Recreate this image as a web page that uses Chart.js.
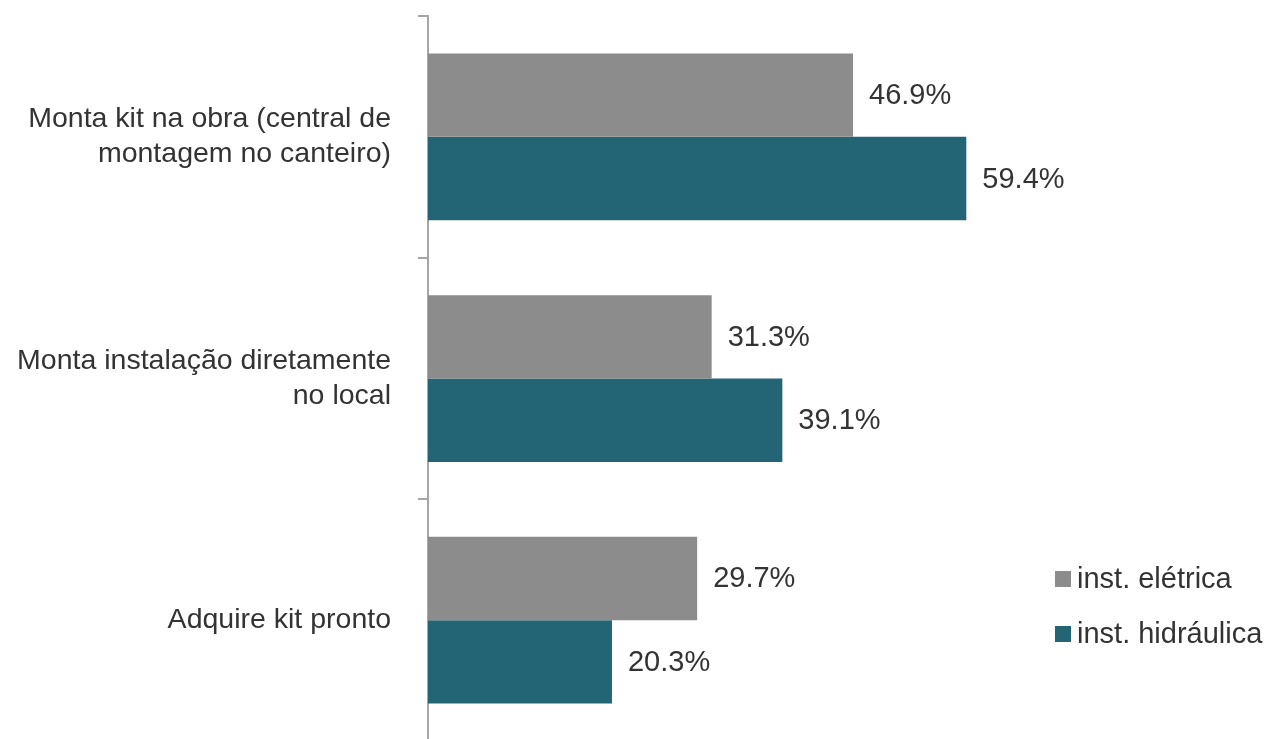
<!DOCTYPE html>
<html>
<head>
<meta charset="utf-8">
<script src="https://cdn.jsdelivr.net/npm/chart.js@4/dist/chart.umd.min.js"></script>
<style>
  html, body { margin: 0; padding: 0; background: #fff; overflow: hidden; }
  #wrap { position: relative; width: 1268px; height: 741px; }
</style>
</head>
<body>
<div id="wrap"><canvas id="barchart"></canvas></div>
<script>
let categories = [
    ['Monta kit na obra (central de', 'montagem no canteiro)'],
    ['Monta instalação diretamente', 'no local'],
    'Adquire kit pronto'
];
let seriesNames = ['inst. elétrica', 'inst. hidráulica'];
let eletrica = [46.9, 31.3, 29.7];
let hidraulica = [59.4, 39.1, 20.3];
let seriesColors = ['#8c8c8c', '#236574'];

let fontFamily = '"Liberation Sans", Arial, sans-serif';
let textColor = '#333333';

// value labels right of each bar
let valueLabels = {
    id: 'valueLabels',
    afterDatasetsDraw(chart) {
        let ctx = chart.ctx;
        ctx.save();
        ctx.font = '29px ' + fontFamily;
        ctx.fillStyle = textColor;
        ctx.textAlign = 'left';
        ctx.textBaseline = 'middle';
        chart.data.datasets.forEach((ds, i) => {
            chart.getDatasetMeta(i).data.forEach((bar, j) => {
                ctx.fillText(ds.data[j].toFixed(1) + '%', bar.x + 16, bar.y + 1);
            });
        });
        ctx.restore();
    }
};

// legend in the lower right corner
let sideLegend = {
    id: 'sideLegend',
    afterDraw(chart) {
        let ctx = chart.ctx;
        ctx.save();
        ctx.font = '29px ' + fontFamily;
        ctx.textBaseline = 'middle';
        chart.data.datasets.forEach((ds, i) => {
            let y = 579 + i * 55;
            ctx.fillStyle = ds.backgroundColor;
            ctx.fillRect(1055, y - 8, 16, 16);
            ctx.fillStyle = textColor;
            ctx.fillText(ds.label, 1077, y + 1);
        });
        ctx.restore();
    }
};

let barConfig = {
    type: 'bar',
    data: {
        labels: categories,
        datasets: [
            { label: seriesNames[0], data: eletrica, backgroundColor: seriesColors[0] },
            { label: seriesNames[1], data: hidraulica, backgroundColor: seriesColors[1] }
        ]
    },
    options: {
        indexAxis: 'y',
        responsive: true,
        maintainAspectRatio: false,
        animation: false,
        categoryPercentage: 0.69,
        barPercentage: 1.0,
        layout: { padding: { top: 16, right: 115, bottom: 0, left: 0 } },
        plugins: {
            legend: { display: false },
            tooltip: { enabled: false }
        },
        scales: {
            x: {
                display: false,
                min: 0,
                max: 80
            },
            y: {
                afterFit: (scale) => {
                    scale.width = 428;
                    scale.paddingTop = 0;
                    scale.paddingBottom = 0;
                },
                border: { display: true, color: '#a6a6a6', width: 2 },
                grid: {
                    drawOnChartArea: false,
                    drawTicks: true,
                    tickLength: 10,
                    color: '#a6a6a6',
                    lineWidth: 2
                },
                ticks: {
                    color: textColor,
                    padding: 27,
                    font: { family: fontFamily, size: 28.5, lineHeight: 1.23 }
                }
            }
        }
    },
    plugins: [valueLabels, sideLegend]
};

let barCtx = document.getElementById('barchart').getContext('2d');
let barChart = new Chart(barCtx, barConfig);
</script>
</body>
</html>
